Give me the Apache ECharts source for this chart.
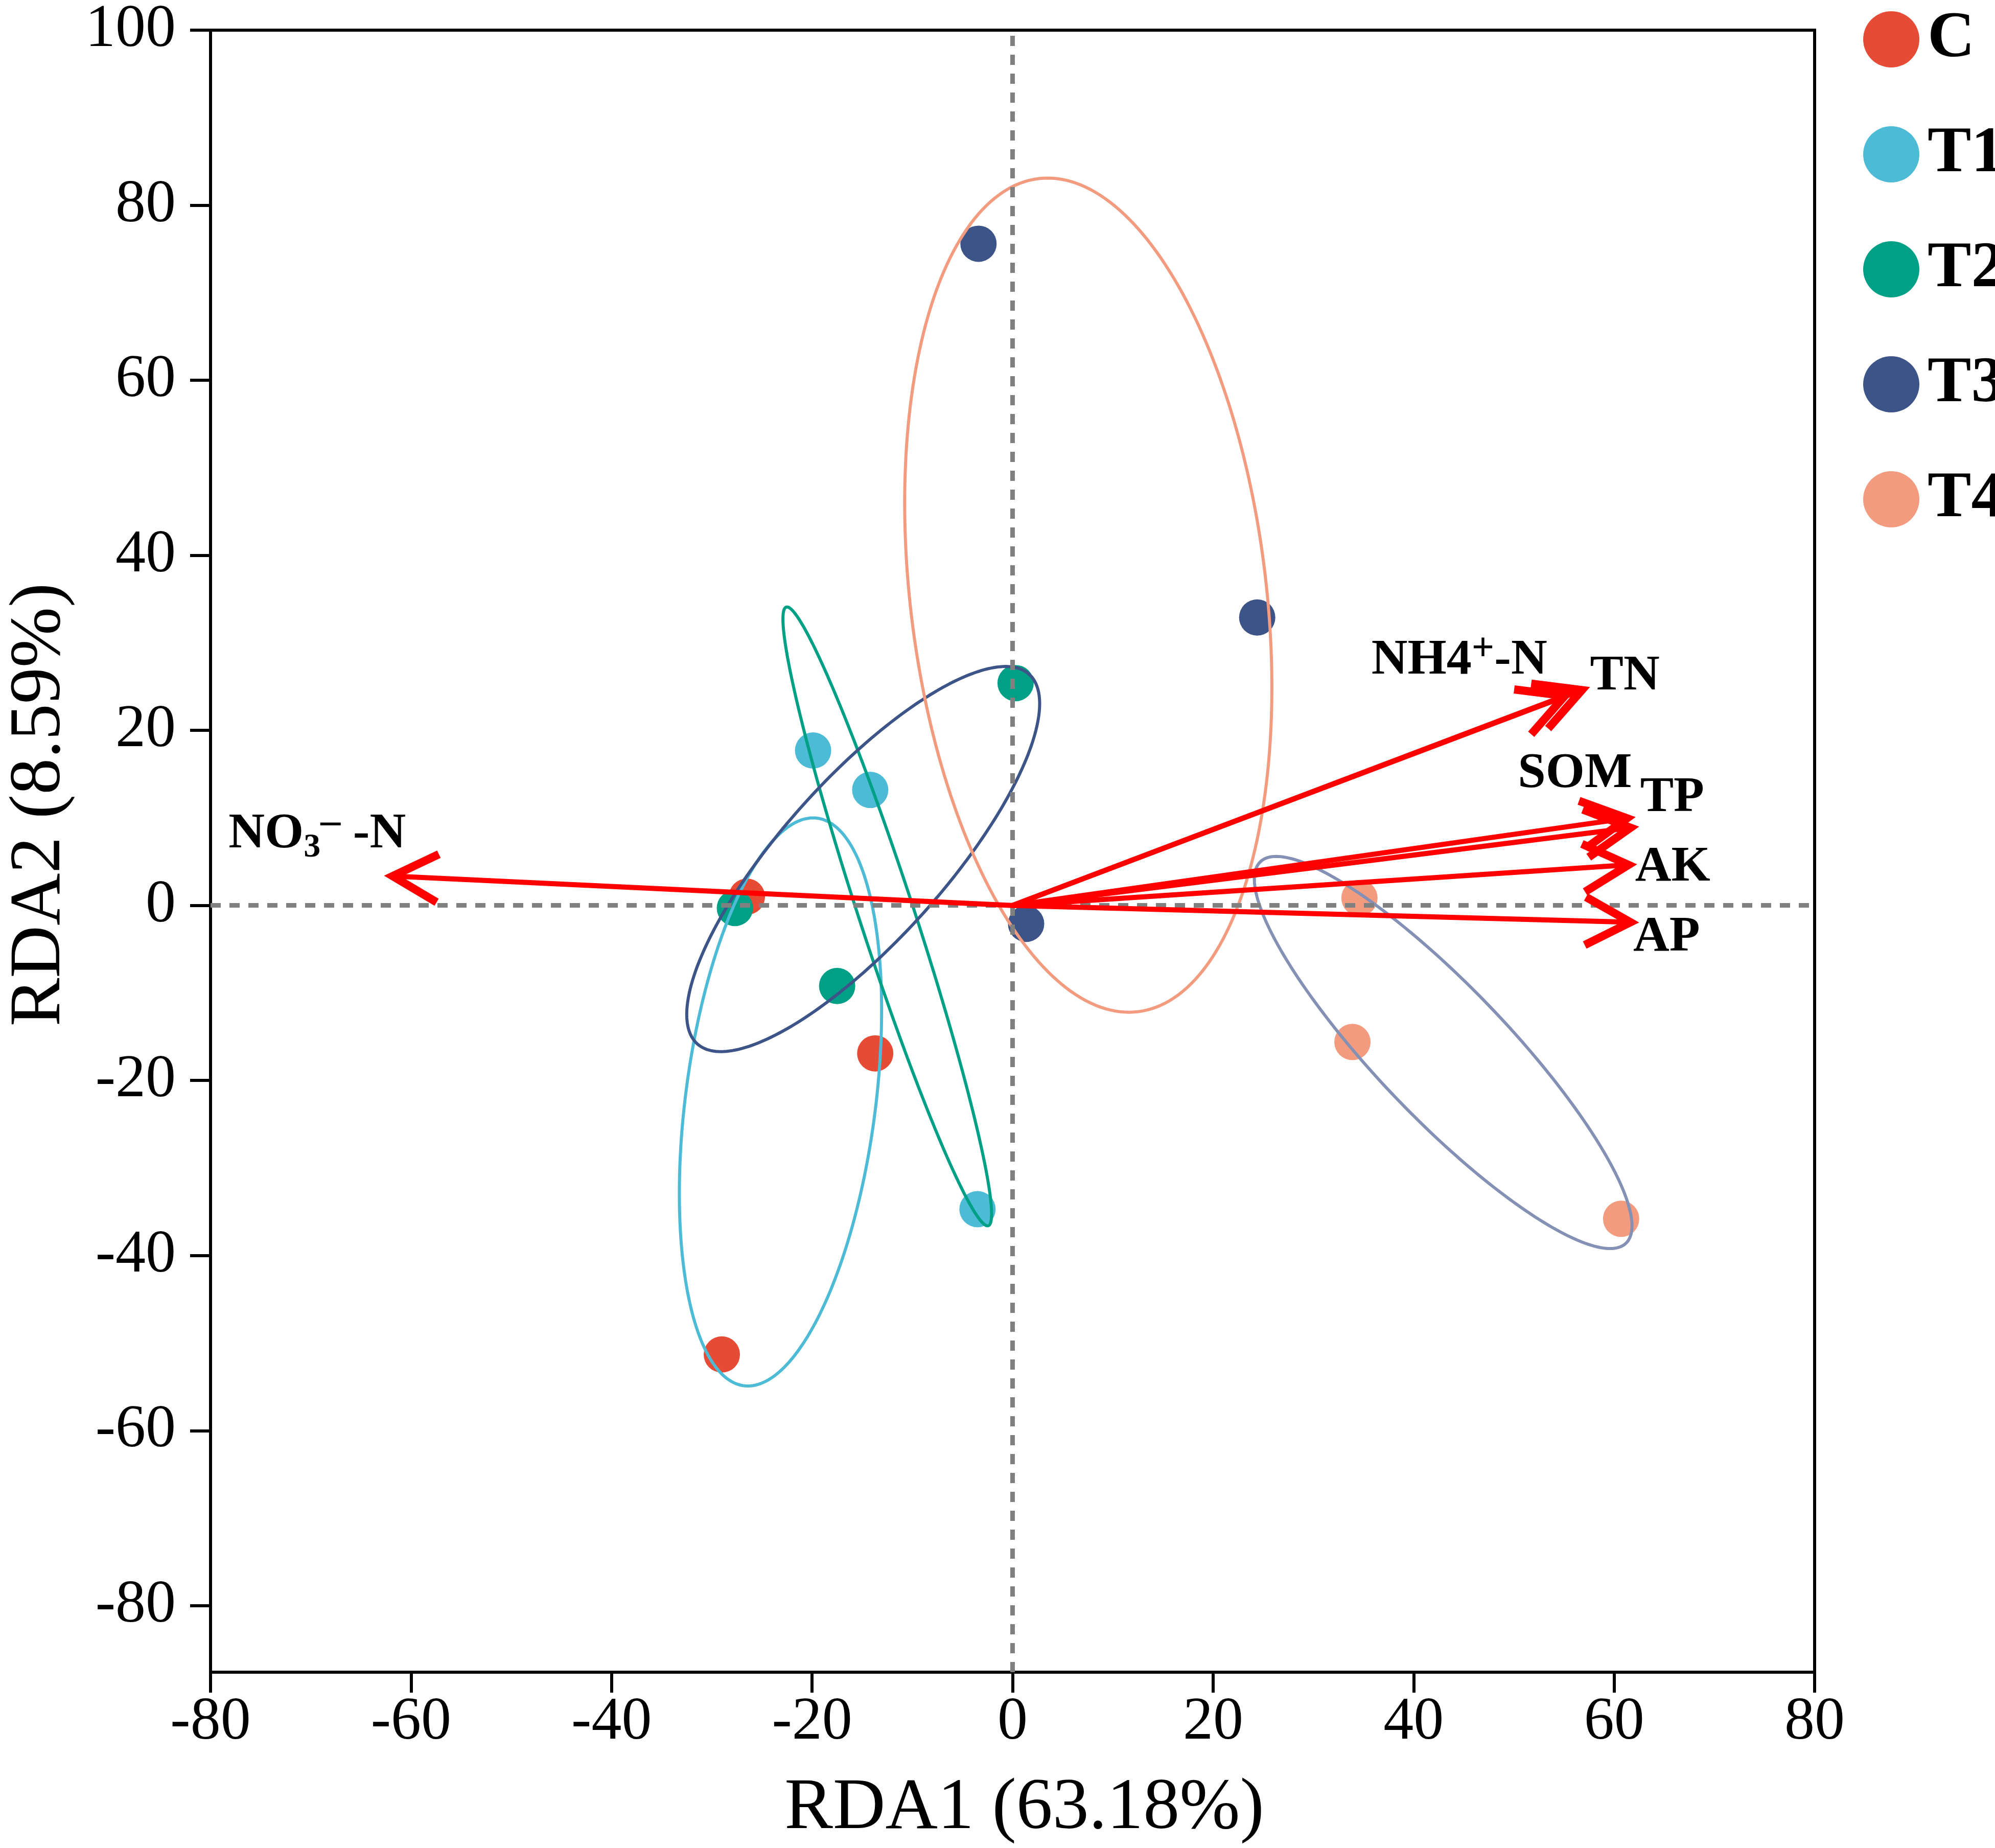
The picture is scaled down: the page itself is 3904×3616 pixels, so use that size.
<!DOCTYPE html>
<html>
<head>
<meta charset="utf-8">
<script src="https://cdn.jsdelivr.net/npm/echarts@6/dist/echarts.min.js"></script>
<style>html,body{margin:0;padding:0;background:#fff}#chart{width:3904px;height:3616px}</style>
</head>
<body>
<div id="chart"></div>
<script>
// ---------- data ----------
const groupNames = ['C', 'T1', 'T2', 'T3', 'T4'];
const ptC  = [[-26.5, 1.0], [-13.7, -16.9], [-29.0, -51.3]];
const ptT1 = [[-19.9, 17.7], [-14.2, 13.2], [-3.5, -34.7]];
const ptT2 = [[0.3, 25.4], [-27.7, -0.3], [-17.5, -9.2]];
const ptT3 = [[-3.4, 75.6], [24.4, 32.9], [1.35, -2.1]];
const ptT4 = [[34.6, 0.85], [33.9, -15.6], [60.7, -35.8]];

// ellipse parameters: centre, offset of the top-most point from the centre, horizontal half-chord through centre
const ellipseCenters = [[-23.15, -22.45], [-12.5, -1.25], [-14.9, 5.3], [7.55, 35.45], [42.95, -16.8]];
const ellipseTopOffsets = [[3.25, 32.45], [-10.0, 35.35], [14.2, 22.0], [-4.05, 47.65], [-16.65, 22.4]];
const ellipseHalfChords = [9.55, 2.88, 10.4, 17.86, 8.8];

// environmental factor arrows (tips; all start at the origin)
const envNames = ['NO3--N', 'NH4+-N', 'TN', 'SOM', 'TP', 'AK', 'AP'];
const envTips = [[-62.7, 3.4], [55.9, 24.3], [57.6, 24.95], [62.15, 10.1], [62.5, 9.0], [62.3, 4.7], [62.5, -1.95]];
const envLabelPos = [[-78.2, 6.1], [35.8, 25.9], [57.6, 24.1], [50.4, 12.95], [62.6, 10.2], [62.1, 2.3], [61.9, -5.7]];
const envLabelTexts = ['{m|NO}{sub|3}{sup|\u2013}{m| -N}', '{m|NH4}{sup|+}{m|-N}', '{m|TN}', '{m|SOM}', '{m|TP}', '{m|AK}', '{m|AP}'];

const yTickValues = [-80, -60, -40, -20, 0, 20, 40, 60, 80, 100];

// ---------- styles ----------
const pointColors = ['#E64B35', '#4DBBD5', '#00A087', '#3C5488', '#F39B7F'];
const ellipseColors = ['#4DBBD5', '#00A087', '#3C5488', '#F39B7F', '#8491B4'];
const SERIF = 'Liberation Serif';
const groupPoints = [ptC, ptT1, ptT2, ptT3, ptT4];

const chart = echarts.init(document.getElementById('chart'), null, {renderer: 'canvas'});

const richStyles = {
  m:   {fontSize: 98, fontWeight: 'bold', fontFamily: SERIF, lineHeight: 120, fill: '#000', color: '#000'},
  sub: {fontSize: 66, fontWeight: 'bold', fontFamily: SERIF, lineHeight: 66, verticalAlign: 'bottom', fill: '#000', color: '#000'},
  sup: {fontSize: 78, fontWeight: 'bold', fontFamily: SERIF, lineHeight: 60, verticalAlign: 'top', fill: '#000', color: '#000'}
};

function renderEllipse(params, api) {
  const i = params.dataIndex;
  const cx = api.value(0), cy = api.value(1), ux = api.value(2), uy = api.value(3), w = api.value(4);
  const pts = [];
  const N = 240;
  for (let k = 0; k < N; k++) {
    const t = k / N * Math.PI * 2;
    pts.push(api.coord([cx + Math.cos(t) * ux + Math.sin(t) * w, cy + Math.cos(t) * uy]));
  }
  return {type: 'polygon', shape: {points: pts}, silent: true,
    style: {fill: 'none', stroke: ellipseColors[i], lineWidth: 6}};
}

function renderArrow(params, api) {
  const o = api.coord([0, 0]);
  const p = api.coord([api.value(0), api.value(1)]);
  const ang = Math.atan2(o[1] - p[1], o[0] - p[0]);
  const L = 100, a = 28 * Math.PI / 180, bw = 16;
  const back = (bw / 2) / Math.sin(a);
  const v = [p[0] + back * Math.cos(ang), p[1] + back * Math.sin(ang)];
  const b1 = [v[0] + L * Math.cos(ang + a), v[1] + L * Math.sin(ang + a)];
  const b2 = [v[0] + L * Math.cos(ang - a), v[1] + L * Math.sin(ang - a)];
  return {type: 'group', silent: true, children: [
    {type: 'line', shape: {x1: o[0], y1: o[1], x2: v[0], y2: v[1]}, style: {stroke: '#FF0000', lineWidth: 10}},
    {type: 'polyline', shape: {points: [b1, v, b2]}, style: {stroke: '#FF0000', fill: null, lineWidth: bw, lineJoin: 'miter', miterLimit: 10, lineCap: 'butt'}}
  ]};
}

function renderLabel(params, api) {
  const i = params.dataIndex;
  const p = api.coord([api.value(0), api.value(1)]);
  return {type: 'text', x: p[0], y: p[1] + 25, silent: true,
    style: {text: envLabelTexts[i], rich: richStyles, align: 'left', verticalAlign: 'bottom',
      fontSize: 98, fontWeight: 'bold', fontFamily: SERIF, fill: '#000'}};
}

const series = groupNames.map((g, i) => ({
  name: g, type: 'scatter', data: groupPoints[i], symbol: 'circle', symbolSize: 71,
  itemStyle: {color: pointColors[i], opacity: 1}, z: 2, silent: true
}));

series.push({
  name: 'zero', type: 'scatter', data: [], z: 3, silent: true,
  markLine: {silent: true, symbol: ['none', 'none'], label: {show: false},
    lineStyle: {color: '#808080', width: 9, type: [20, 17]},
    data: [{xAxis: 0}, {yAxis: 0}]}
});

series.push({
  name: 'ellipses', type: 'custom', renderItem: renderEllipse, z: 4, silent: true,
  data: ellipseCenters.map((c, i) => [c[0], c[1], ellipseTopOffsets[i][0], ellipseTopOffsets[i][1], ellipseHalfChords[i]]),
  encode: {x: 0, y: 1}
});

series.push({
  name: 'arrows', type: 'custom', renderItem: renderArrow, z: 5, silent: true,
  data: envTips.map((t, i) => [t[0], t[1], envNames[i]]), encode: {x: 0, y: 1}
});

series.push({
  name: 'labels', type: 'custom', renderItem: renderLabel, z: 6, silent: true,
  data: envLabelPos.map((t, i) => [t[0], t[1], envNames[i]]), encode: {x: 0, y: 1}
});

const axisTextStyle = {fontSize: 118, fontFamily: SERIF, color: '#000'};

chart.setOption({
  animation: false,
  backgroundColor: '#ffffff',
  grid: {left: 403, top: 47, right: 353, bottom: 342, show: true, borderColor: '#000', borderWidth: 6, backgroundColor: 'transparent'},
  legend: {
    data: groupNames, orient: 'vertical', left: 3641, top: 8, icon: 'circle',
    itemWidth: 110, itemHeight: 110, itemGap: 97, selectedMode: false,
    textStyle: {fontSize: 128, fontWeight: 'bold', fontFamily: SERIF, color: '#000', lineHeight: 110, padding: [0, 0, 0, 11]}
  },
  xAxis: {
    type: 'value', min: -80, max: 80, interval: 20,
    name: 'RDA1 (63.18%)', nameLocation: 'middle', nameGap: 197,
    nameTextStyle: {fontSize: 142, fontFamily: SERIF, color: '#000', padding: [0, 0, 0, 46]},
    axisLine: {show: true, onZero: false, lineStyle: {color: '#000', width: 6}},
    axisTick: {show: true, length: 40, lineStyle: {color: '#000', width: 6}},
    axisLabel: Object.assign({margin: 40}, axisTextStyle),
    splitLine: {show: false}
  },
  yAxis: {
    type: 'value', min: -87.6, max: 100,
    name: 'RDA2 (8.59%)', nameLocation: 'middle', nameGap: 262,
    nameTextStyle: {fontSize: 142, fontFamily: SERIF, color: '#000', padding: [0, 0, 0, 182]},
    axisLine: {show: true, onZero: false, lineStyle: {color: '#000', width: 6}},
    axisTick: {show: true, length: 40, lineStyle: {color: '#000', width: 6}, customValues: yTickValues},
    axisLabel: Object.assign({margin: 68, customValues: yTickValues}, axisTextStyle),
    splitLine: {show: false}
  },
  series: series
});
</script>
</body>
</html>
